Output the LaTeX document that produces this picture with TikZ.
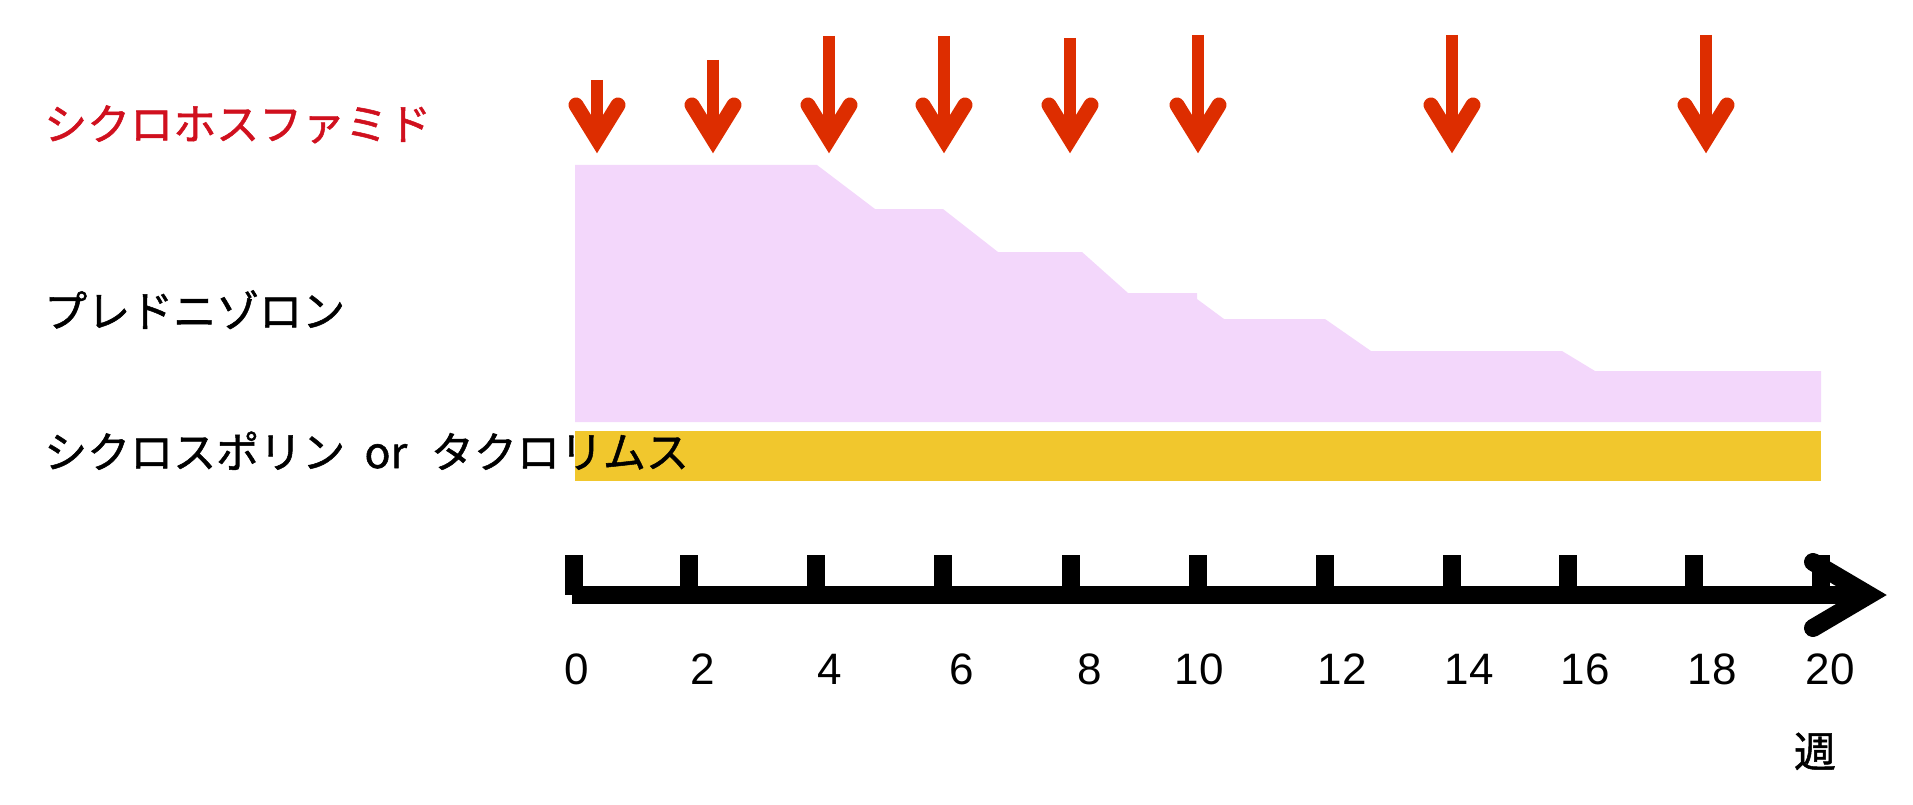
\documentclass[tikz,border=0pt]{standalone}
\usepackage{fontspec}
\setmainfont{Liberation Sans}
\newfontfamily\jpfont[FakeBold=1.2]{Noto Sans CJK JP}
\usepackage{tikz}
\definecolor{dosered}{RGB}{221,45,0}
\definecolor{labelred}{RGB}{208,16,30}
\definecolor{pslpink}{RGB}{243,215,251}
\definecolor{cyagold}{RGB}{241,199,45}

\begin{document}
\begin{tikzpicture}[x=1pt, y=-1pt,
	dose/.style={color=dosered, line width=12pt},
	dosehead/.style={color=dosered, line width=15pt, line cap=round},
	wktick/.style={line width=18pt},
	drug/.style={anchor=base west, inner sep=0pt, font=\jpfont\fontsize{43}{50}\selectfont},
	weeknum/.style={anchor=base, inner sep=0pt, font=\fontsize{44}{50}\selectfont}]
	\useasboundingbox (0,0) rectangle (1913,805);
% draw prednisolone taper
	\fill[pslpink] (575,422) -- (575,165) -- (817,165) -- (875,209) -- (943,209) -- (998,252)
		-- (1082,252) -- (1128,293) -- (1197,293) -- (1197,299) -- (1224,319) -- (1325,319)
		-- (1371,351) -- (1562,351) -- (1595,371) -- (1821,371) -- (1821,422) -- cycle;
% draw cyclosporin / tacrolimus bar
	\fill[cyagold] (575,431) rectangle (1821,481);
% draw drug labels
	\node[drug, text=labelred] (cpa) at (44,140) {シクロホスファミド};
	\node[drug] (psl) at (44,327) {プレドニゾロン};
	\node[drug] (cya) at (44,468) {シクロスポリン\hspace{0.45em}or\hspace{0.55em}タクロリムス};
% draw cyclophosphamide doses
	\foreach \x/\top in {597/80, 713/60, 829/36, 944/36, 1070/38, 1198/35, 1452/35, 1706/35} {
		\draw[dose] (\x,\top) -- (\x,135);
		\draw[dosehead] (\x-21,105) -- (\x,139) -- (\x+21,105);
	}
% draw time axis
	\draw[line width=18pt] (572,595) -- (1869,595);
	\foreach \x in {574,689,816,943,1071,1198,1325,1452,1568,1694,1821}
		\draw[wktick] (\x,555) -- (\x,595);
	\draw[line width=18pt, line cap=round] (1813,562) -- (1869,595) -- (1813,628);
% draw week labels
	\foreach \x/\w in {577/0, 703/2, 830/4, 962/6, 1090/8, 1199/10, 1342/12, 1469/14, 1585/16, 1712/18, 1830/20}
		\node[weeknum] (w\w) at (\x,684) {\w};
	\node[weeknum, font=\jpfont\fontsize{42}{50}\selectfont] (unit) at (1815,767) {週};
\end{tikzpicture}
\end{document}
